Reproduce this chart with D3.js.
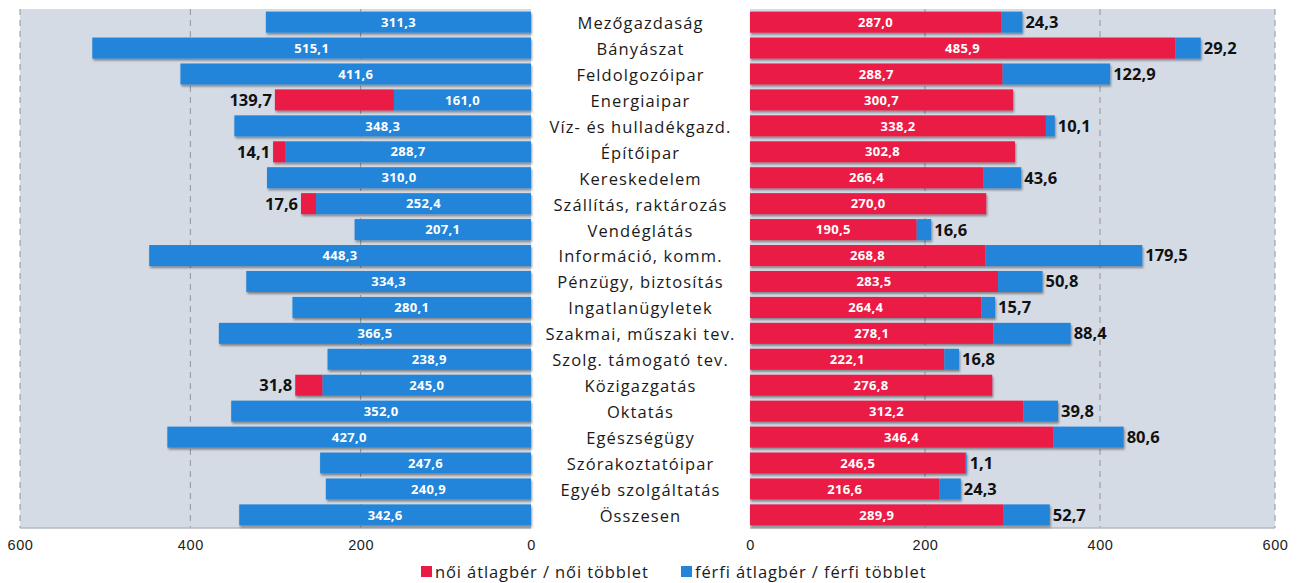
<!DOCTYPE html>
<html>
<head>
<meta charset="utf-8">
<script src="https://cdn.jsdelivr.net/npm/d3@7"></script>
<style>
  html, body { margin: 0; padding: 0; background: #fff; }
  svg { display: block; font-family: "Open Sans", "DejaVu Sans", sans-serif; }
</style>
</head>
<body>
<svg id="chart" width="1303" height="583"></svg>
<script>
// Sectors, top to bottom
const categories = [
  "Mezőgazdaság", "Bányászat", "Feldolgozóipar", "Energiaipar",
  "Víz- és hulladékgazd.", "Építőipar", "Kereskedelem", "Szállítás, raktározás",
  "Vendéglátás", "Információ, komm.", "Pénzügy, biztosítás", "Ingatlanügyletek",
  "Szakmai, műszaki tev.", "Szolg. támogató tev.", "Közigazgatás", "Oktatás",
  "Egészségügy", "Szórakoztatóipar", "Egyéb szolgáltatás", "Összesen"
];
// Left panel: men's base wage and the women's surplus on top of it
const leftMale     = [311.3, 515.1, 411.6, 161.0, 348.3, 288.7, 310.0, 252.4, 207.1, 448.3,
                      334.3, 280.1, 366.5, 238.9, 245.0, 352.0, 427.0, 247.6, 240.9, 342.6];
const leftFemaleSurplus = [0, 0, 0, 139.7, 0, 14.1, 0, 17.6, 0, 0,
                      0, 0, 0, 0, 31.8, 0, 0, 0, 0, 0];
// Right panel: women's base wage and the men's surplus on top of it
const rightFemale  = [287.0, 485.9, 288.7, 300.7, 338.2, 302.8, 266.4, 270.0, 190.5, 268.8,
                      283.5, 264.4, 278.1, 222.1, 276.8, 312.2, 346.4, 246.5, 216.6, 289.9];
const rightMaleSurplus = [24.3, 29.2, 122.9, 0, 10.1, 0, 43.6, 0, 16.6, 179.5,
                      50.8, 15.7, 88.4, 16.8, 0, 39.8, 80.6, 1.1, 24.3, 52.7];
const tickValues = [0, 200, 400, 600];
const legendLabels = ["női átlagbér / női többlet", "férfi átlagbér / férfi többlet"];

const RED = "#ea1a44", BLUE = "#2285da", PANEL = "#d5dbe5";
const fmt = v => d3.format(".1f")(v).replace(".", ",");

const svg = d3.select("#chart");
const plotTop = 9, plotBottom = 528;

const defs = svg.append("defs");
const f = defs.append("filter").attr("id", "shadow")
  .attr("x", "-5%").attr("y", "-30%").attr("width", "110%").attr("height", "180%");
f.append("feDropShadow").attr("dx", 1).attr("dy", 2).attr("stdDeviation", 1.3)
  .attr("flood-color", "#000").attr("flood-opacity", 0.4);

const y = d3.scaleBand().domain(categories).range([plotTop, plotBottom]).paddingInner(0.19).paddingOuter(0.1);

const xL = d3.scaleLinear().domain([0, 600]).range([531, 20]);
const xR = d3.scaleLinear().domain([0, 600]).range([750, 1275]);

function panel(x, x0, x1) {
  const g = svg.append("g");
  g.append("rect").attr("x", Math.min(x0, x1)).attr("y", plotTop)
    .attr("width", Math.abs(x1 - x0)).attr("height", plotBottom - plotTop).attr("fill", PANEL);
  g.selectAll("line.grid").data(tickValues.filter(t => t > 0)).join("line")
    .attr("x1", d => x(d)).attr("x2", d => x(d)).attr("y1", plotTop).attr("y2", plotBottom)
    .attr("stroke", "#8f949c").attr("stroke-width", 1).attr("stroke-dasharray", "6,5");
  g.append("line").attr("x1", x0).attr("x2", x1).attr("y1", plotBottom).attr("y2", plotBottom)
    .attr("stroke", "#b4b8be").attr("stroke-width", 1.5);
  const axis = d3.axisBottom(x).tickValues(tickValues).tickSize(0).tickPadding(0).tickFormat(d3.format("d"));
  const ax = svg.append("g").attr("transform", `translate(0,${plotBottom + 12})`).call(axis);
  ax.select(".domain").remove();
  ax.selectAll("text").attr("font-size", 14.5).attr("letter-spacing", 0.6)
    .attr("fill", "#222").attr("dy", "0.71em");
  return g;
}

panel(xL, 20, 531);
panel(xR, 750, 1275);

const bh = y.bandwidth();

// Left bars
const barsL = svg.append("g").attr("filter", "url(#shadow)");
barsL.selectAll("rect.m").data(categories).join("rect")
  .attr("x", (d, i) => xL(leftMale[i])).attr("y", d => y(d))
  .attr("width", (d, i) => xL(0) - xL(leftMale[i])).attr("height", bh).attr("fill", BLUE);
barsL.selectAll("rect.f").data(categories.filter((d, i) => leftFemaleSurplus[i] > 0)).join("rect")
  .attr("x", d => { const i = categories.indexOf(d); return xL(leftMale[i] + leftFemaleSurplus[i]); })
  .attr("y", d => y(d))
  .attr("width", d => { const i = categories.indexOf(d); return xL(leftMale[i]) - xL(leftMale[i] + leftFemaleSurplus[i]); })
  .attr("height", bh).attr("fill", RED);

// Right bars
const barsR = svg.append("g").attr("filter", "url(#shadow)");
barsR.selectAll("rect.f").data(categories).join("rect")
  .attr("x", xR(0)).attr("y", d => y(d))
  .attr("width", (d, i) => xR(rightFemale[i]) - xR(0)).attr("height", bh).attr("fill", RED);
barsR.selectAll("rect.m").data(categories.filter((d, i) => rightMaleSurplus[i] > 0)).join("rect")
  .attr("x", d => xR(rightFemale[categories.indexOf(d)])).attr("y", d => y(d))
  .attr("width", d => { const i = categories.indexOf(d); return xR(rightFemale[i] + rightMaleSurplus[i]) - xR(rightFemale[i]); })
  .attr("height", bh).attr("fill", BLUE);

// Value labels
const lab = svg.append("g").attr("font-weight", 700);
const cy = d => y(d) + bh / 2;
lab.selectAll("text.li").data(categories).join("text")
  .attr("x", (d, i) => (xL(0) + xL(leftMale[i])) / 2).attr("y", cy).attr("dy", "0.36em")
  .attr("text-anchor", "middle").attr("fill", "#fff").attr("font-size", 13).attr("letter-spacing", 0.3)
  .text((d, i) => fmt(leftMale[i]));
lab.selectAll("text.lo").data(categories.filter((d, i) => leftFemaleSurplus[i] > 0)).join("text")
  .attr("x", d => { const i = categories.indexOf(d); return xL(leftMale[i] + leftFemaleSurplus[i]) - 3; })
  .attr("y", cy).attr("dy", "0.36em").attr("text-anchor", "end").attr("fill", "#111").attr("font-size", 16.5)
  .text(d => fmt(leftFemaleSurplus[categories.indexOf(d)]));
lab.selectAll("text.ri").data(categories).join("text")
  .attr("x", (d, i) => (xR(0) + xR(rightFemale[i])) / 2).attr("y", cy).attr("dy", "0.36em")
  .attr("text-anchor", "middle").attr("fill", "#fff").attr("font-size", 13).attr("letter-spacing", 0.3)
  .text((d, i) => fmt(rightFemale[i]));
lab.selectAll("text.ro").data(categories.filter((d, i) => rightMaleSurplus[i] > 0)).join("text")
  .attr("x", d => { const i = categories.indexOf(d); return xR(rightFemale[i] + rightMaleSurplus[i]) + 3; })
  .attr("y", cy).attr("dy", "0.36em").attr("text-anchor", "start").attr("fill", "#111").attr("font-size", 16.5)
  .text(d => fmt(rightMaleSurplus[categories.indexOf(d)]));

// Category names between the panels
svg.append("g").selectAll("text").data(categories).join("text")
  .attr("x", 640.5).attr("y", d => y(d) + bh / 2 + 1).attr("dy", "0.36em")
  .attr("text-anchor", "middle").attr("font-size", 16.5).attr("letter-spacing", 1.1).attr("fill", "#1a1a1a")
  .text(d => d);

// Legend
const legend = svg.append("g").attr("transform", "translate(0,572)");
const items = [{ label: legendLabels[0], color: RED, x: 421 }, { label: legendLabels[1], color: BLUE, x: 681 }];
items.forEach(it => {
  legend.append("rect").attr("x", it.x).attr("y", -6).attr("width", 11).attr("height", 11).attr("fill", it.color);
  legend.append("text").attr("x", it.x + 14).attr("y", 0).attr("dy", "0.36em")
    .attr("font-size", 16.5).attr("letter-spacing", 0.9).attr("fill", "#1a1a1a").text(it.label);
});
</script>
</body>
</html>
